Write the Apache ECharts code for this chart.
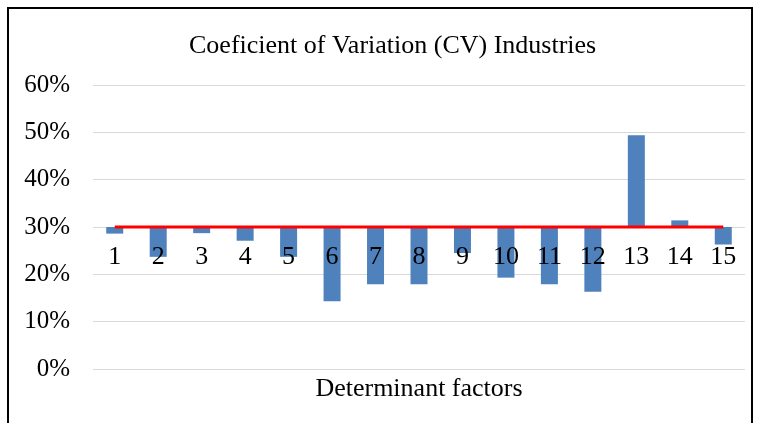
<!DOCTYPE html>
<html>
<head>
<meta charset="utf-8">
<script src="https://cdn.jsdelivr.net/npm/echarts@6/dist/echarts.min.js"></script>
<style>
  html, body { margin: 0; padding: 0; background: #fff; }
  #chart { width: 760px; height: 423px; }
</style>
</head>
<body>
<div id="chart"></div>
<script>
// 数据
const factors = ['1', '2', '3', '4', '5', '6', '7', '8', '9', '10', '11', '12', '13', '14', '15'];
const cvValues = [28.6, 23.7, 28.7, 27.1, 23.7, 14.3, 17.9, 17.9, 24.5, 19.3, 17.9, 16.3, 49.4, 31.4, 26.3];
const thresholdValues = [30, 30, 30, 30, 30, 30, 30, 30, 30, 30, 30, 30, 30, 30, 30];
const yTicks = [0, 10, 20, 30, 40, 50, 60];

const baseLine = thresholdValues[0];
// bars hang from the 30% line: transparent base + visible part
const baseData = cvValues.map(v => Math.min(v, baseLine));
const deltaData = cvValues.map(v => Math.abs(v - baseLine));

const serif = 'Liberation Serif, Times New Roman, serif';
let myChart = echarts.init(document.getElementById('chart'));

let options = {
  backgroundColor: '#fff',
  animation: false,
  title: {
    text: 'Coeficient of Variation (CV) Industries',
    left: 184,
    top: 28,
    textStyle: { fontFamily: serif, fontSize: 26, fontWeight: 'normal', color: '#000' }
  },
  grid: { left: 93, right: 15, top: 85, bottom: 54 },
  xAxis: [
    // 数字标签贴在 30% 线下方，压在柱子上面
    {
      type: 'category',
      data: factors,
      offset: -142,
      z: 10,
      axisLine: { show: false },
      axisTick: { show: false },
      axisLabel: { margin: 17, fontFamily: serif, fontSize: 26, color: '#000' }
    },
    // 轴名称
    {
      type: 'category',
      data: factors,
      position: 'bottom',
      axisLine: { show: false },
      axisTick: { show: false },
      axisLabel: { show: false },
      name: 'Determinant factors',
      nameLocation: 'middle',
      nameGap: 7,
      nameTextStyle: { fontFamily: serif, fontSize: 26, color: '#000', verticalAlign: 'top' }
    }
  ],
  yAxis: {
    type: 'value',
    min: yTicks[0],
    max: yTicks[yTicks.length - 1],
    interval: 10,
    axisLine: { show: false },
    axisTick: { show: false },
    splitLine: { lineStyle: { color: '#d9d9d9', width: 1 } },
    axisLabel: {
      margin: 23,
      fontFamily: serif,
      fontSize: 25,
      color: '#000',
      formatter: '{value}%'
    }
  },
  series: [
    {
      name: 'base',
      type: 'bar',
      stack: 'cv',
      data: baseData,
      barWidth: 17,
      itemStyle: { color: 'transparent' },
      silent: true
    },
    {
      name: 'CV',
      type: 'bar',
      stack: 'cv',
      data: deltaData,
      barWidth: 17,
      itemStyle: { color: '#4f81bd' }
    },
    {
      name: 'threshold',
      type: 'line',
      data: thresholdValues,
      symbol: 'none',
      z: 5,
      lineStyle: { color: '#ff0000', width: 3 }
    }
  ],
  graphic: [
    {
      type: 'rect',
      shape: { x: 8, y: 8, width: 744, height: 440 },
      style: { fill: 'none', stroke: '#000', lineWidth: 2 },
      silent: true
    }
  ]
};
myChart.setOption(options);
</script>
</body>
</html>
